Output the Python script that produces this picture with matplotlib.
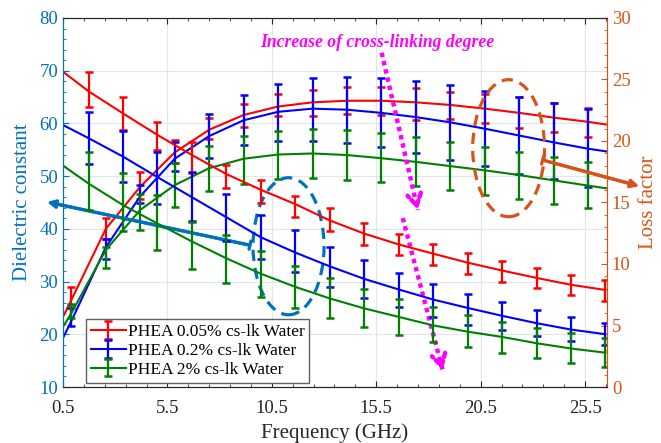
import numpy as np
import matplotlib
matplotlib.use("Agg")
import matplotlib.pyplot as plt
from matplotlib.patches import Ellipse
from matplotlib.container import ErrorbarContainer

plt.rcParams['font.family'] = ['Liberation Serif', 'DejaVu Serif']

# ---- data -------------------------------------------------------------
labels = ["PHEA 0.05% cs-lk Water", "PHEA 0.2% cs-lk Water", "PHEA 2% cs-lk Water"]
colors = ["#ff0000", "#0000ff", "#008000"]

# dielectric constant (left axis): fitted curves
f_diel_curve = [0.5, 0.9, 2.55, 4.2, 5.85, 7.5, 9.15, 10.8, 12.45, 14.1, 15.75,
                17.4, 19.05, 20.7, 22.35, 24.0, 25.65, 26.5]
diel_red = [23.3, 26.5, 40.0, 48.0, 54.5, 58.8, 61.6, 63.2, 64.0, 64.3, 64.3,
            64.0, 63.5, 62.8, 62.0, 61.1, 60.3, 59.8]
diel_blue = [19.3, 22.5, 36.5, 46.2, 53.3, 57.6, 60.6, 62.2, 62.8, 62.6, 62.0,
             61.2, 60.2, 59.0, 57.7, 56.4, 55.2, 54.7]
diel_green = [21.4, 24.0, 36.0, 43.6, 48.3, 51.5, 53.3, 54.1, 54.3, 54.0, 53.4,
              52.7, 51.9, 51.1, 50.2, 49.2, 48.2, 47.7]

# dielectric constant: measured mean +- std
f_diel = [0.9, 2.55, 4.2, 5.85, 7.5, 9.15, 10.8, 12.45, 14.1, 15.75,
          17.4, 19.05, 20.7, 22.35, 24.0, 25.65]
diel_red_m = [27.2, 40.0, 48.2, 54.65, 59.05, 61.5, 63.5, 63.9, 64.4, 64.3,
              63.7, 63.4, 62.8, 62.1, 61.1, 60.2]
diel_red_e = [1.7, 2.0, 2.6, 2.25, 2.05, 2.2, 2.1, 2.5, 2.6, 2.7,
              3.0, 2.5, 2.8, 2.9, 2.7, 2.7]
diel_blue_m = [23.3, 36.1, 46.65, 53.7, 57.65, 60.65, 62.1, 62.65, 62.55, 62.1,
               61.2, 60.15, 59.1, 57.8, 56.6, 55.4]
diel_blue_e = [1.7, 1.9, 1.75, 2.7, 4.15, 4.75, 5.4, 5.95, 6.35, 6.6,
               6.9, 7.15, 7.1, 7.3, 7.2, 7.4]
diel_green_m = [24.4, 34.55, 43.25, 48.3, 51.5, 53.15, 54.05, 54.25, 54.05, 53.5,
                52.8, 51.9, 51.0, 50.1, 49.2, 48.3]
diel_green_e = [1.4, 2.05, 3.45, 4.1, 4.3, 4.55, 4.55, 4.65, 4.75, 4.7,
                4.7, 4.6, 4.6, 4.5, 4.4, 4.4]

# loss factor (right axis): fitted curves
f_loss_curve = [0.5, 1.725, 3.375, 5.025, 6.675, 8.325, 9.975, 11.625, 13.275,
                14.925, 16.575, 18.225, 19.875, 21.525, 23.175, 24.825, 26.475]
loss_red = [25.63, 24.04, 22.24, 20.49, 18.86, 17.31, 16.03, 14.87, 13.54,
            12.47, 11.59, 10.84, 10.11, 9.47, 8.87, 8.31, 7.89]
loss_blue = [21.30, 20.23, 18.73, 17.06, 15.43, 13.80, 12.17, 10.93, 9.81,
             8.79, 7.93, 7.11, 6.43, 5.79, 5.19, 4.67, 4.29]
loss_green = [18.0, 16.54, 14.79, 13.29, 11.83, 10.46, 9.21, 8.14, 7.20,
              6.39, 5.70, 5.01, 4.50, 4.07, 3.56, 3.13, 2.79]

# loss factor: measured mean +- std
f_loss = [1.725, 3.375, 5.025, 6.675, 8.325, 9.975, 11.625, 13.275,
          14.925, 16.575, 18.225, 19.875, 21.525, 23.175, 24.825, 26.475]
loss_red_m = [24.21, 22.24, 20.40, 18.64, 17.10, 15.86, 14.66, 13.59,
              12.47, 11.59, 10.80, 10.05, 9.39, 8.83, 8.27, 7.86]
loss_red_e = [1.41, 1.37, 1.16, 1.24, 0.94, 0.94, 0.86, 0.94,
              0.90, 0.88, 0.86, 0.88, 0.86, 0.81, 0.81, 0.84]
loss_blue_m = [20.25, 18.75, 17.01, 15.49, 13.78, 12.19, 11.08, 9.77,
               8.76, 7.89, 7.05, 6.28, 5.79, 5.21, 4.74, 4.31]
loss_blue_e = [2.08, 2.10, 2.10, 1.99, 1.95, 1.82, 1.69, 1.63,
               1.56, 1.41, 1.35, 1.26, 1.16, 1.05, 0.96, 0.92]
loss_green_m = [16.76, 15.02, 13.37, 11.53, 10.41, 9.21, 8.10, 7.24,
                6.41, 5.66, 5.08, 4.54, 4.03, 3.56, 3.17, 2.81]
loss_green_e = [2.36, 2.34, 2.23, 1.90, 1.93, 1.86, 1.71, 1.63,
                1.52, 1.46, 1.39, 1.29, 1.29, 1.24, 1.20, 1.18]

# ---- figure -----------------------------------------------------------
LEFT_C = "#0072BD"
RIGHT_C = "#D95319"
DARK = "#262626"
MAGENTA = "#ff00ff"

fig = plt.figure(figsize=(6.61, 4.43), dpi=100)
ax = fig.add_axes([0.0953, 0.1264, 0.8230, 0.8330])
ax2 = ax.twinx()

eb_kw = dict(fmt='none', elinewidth=1.6, capsize=3.2, capthick=1.8)
diel = [(diel_red, diel_red_m, diel_red_e),
        (diel_blue, diel_blue_m, diel_blue_e),
        (diel_green, diel_green_m, diel_green_e)]
handles = []
for (curve, m, e), c in zip(diel, colors):
    ln, = ax.plot(f_diel_curve, curve, color=c, lw=1.5)
    eb = ax.errorbar(f_diel, m, yerr=e, ecolor=c, **eb_kw)
    handles.append(ErrorbarContainer((ln, eb[1], eb[2]), has_yerr=True))

loss = [(loss_red, loss_red_m, loss_red_e),
        (loss_blue, loss_blue_m, loss_blue_e),
        (loss_green, loss_green_m, loss_green_e)]
for (curve, m, e), c in zip(loss, colors):
    ax2.plot(f_loss_curve, curve, color=c, lw=1.5)
    ax2.errorbar(f_loss, m, yerr=e, ecolor=c, **eb_kw)

# axes limits and ticks
ax.set_xlim(0.5, 26.55)
ax.set_ylim(10, 80)
ax2.set_ylim(0, 30)
ax.set_xticks(np.arange(0.5, 26, 5))
ax.set_xticks(np.arange(0.5, 27, 1), minor=True)
ax.set_yticks(np.arange(10, 81, 10))
ax.set_yticks(np.arange(10, 81, 2), minor=True)
ax2.set_yticks(np.arange(0, 31, 5))
ax2.set_yticks(np.arange(0, 31, 1), minor=True)
ax.set_xticklabels(["0.5", "5.5", "10.5", "15.5", "20.5", "25.5"])

ax.grid(True, which='major', color="#dfe6ee", lw=0.8)
ax.set_axisbelow(True)

ax.tick_params(axis='x', which='both', direction='in', top=True, colors=DARK,
               labelsize=13.5, pad=9)
ax.tick_params(axis='y', which='both', direction='in', colors=LEFT_C,
               labelsize=13.5, right=False)
ax2.tick_params(axis='y', which='both', direction='in', colors=RIGHT_C,
                labelsize=13.5)
for a in (ax, ax2):
    a.tick_params(which='major', length=4)
    a.tick_params(which='minor', length=2.5)

for a in (ax, ax2):
    a.spines['top'].set_color(DARK)
    a.spines['bottom'].set_color(DARK)
    a.spines['left'].set_color(LEFT_C)
    a.spines['right'].set_color(RIGHT_C)

ax.set_xlabel("Frequency (GHz)", fontsize=15, color=DARK, labelpad=5)
ax.set_ylabel("Dielectric constant", fontsize=15, color=LEFT_C, labelpad=5)
ax2.set_ylabel("Loss factor", fontsize=15, color=RIGHT_C, labelpad=6)

leg = ax.legend(handles, labels, loc='lower left', bbox_to_anchor=(0.042, 0.011),
                borderaxespad=0, fontsize=12.5, fancybox=False, framealpha=1,
                edgecolor="#606060", handlelength=2.0, handletextpad=0.1,
                labelspacing=0.15, borderpad=0.3)
leg.get_frame().set_linewidth(1.0)

# ---- annotations --------------------------------------------------------
ax.text(9.93, 75.3, "Increase of cross-linking degree", color=MAGENTA,
        fontsize=12.7, fontweight='bold', fontstyle='italic', ha='left', va='center')


def dotted_arrow(start, end):
    # square-dotted shaft, then an open dotted head at the far end
    ax.plot([start[0], end[0]], [start[1], end[1]], color=MAGENTA, lw=3.2,
            ls=(0, (1, 0.9)), dash_capstyle='butt', zorder=6)
    near = (end[0] - 0.04 * (end[0] - start[0]), end[1] - 0.04 * (end[1] - start[1]))
    ax.annotate("", xy=end, xytext=near,
                arrowprops=dict(arrowstyle='->,head_length=0.6,head_width=0.35',
                                color=MAGENTA, lw=3.2, ls=(0, (1, 0.9)),
                                mutation_scale=14, shrinkA=0, shrinkB=0), zorder=6)


dotted_arrow((15.76, 73.4), (17.49, 43.6))
dotted_arrow((16.77, 42.05), (18.68, 13.2))

ax.add_patch(Ellipse((11.3, 36.7), 3.4, 26, fill=False, ec=LEFT_C, lw=2.3,
                     ls=(0, (3.5, 2.2)), zorder=5))
ax.add_patch(Ellipse((21.84, 55.3), 3.44, 26, fill=False, ec=RIGHT_C, lw=2.3,
                     ls=(0, (3.5, 2.2)), zorder=5))


def pointer(start, end, color):
    # solid arrow with a short bar across its tail
    ax.annotate("", xy=end, xytext=start, annotation_clip=False,
                arrowprops=dict(arrowstyle='-|>', color=color, lw=2.3,
                                mutation_scale=12, shrinkA=0, shrinkB=0), zorder=6)
    ax.annotate("", xy=end, xytext=start, annotation_clip=False,
                arrowprops=dict(arrowstyle='|-|,widthA=0.3,widthB=0', color=color,
                                lw=2.3, shrinkA=0, shrinkB=8), zorder=6)


pointer((9.45, 36.9), (-0.27, 45.1), LEFT_C)
pointer((23.47, 53.05), (28.1, 48.1), RIGHT_C)

plt.savefig("out.png", dpi=100)
